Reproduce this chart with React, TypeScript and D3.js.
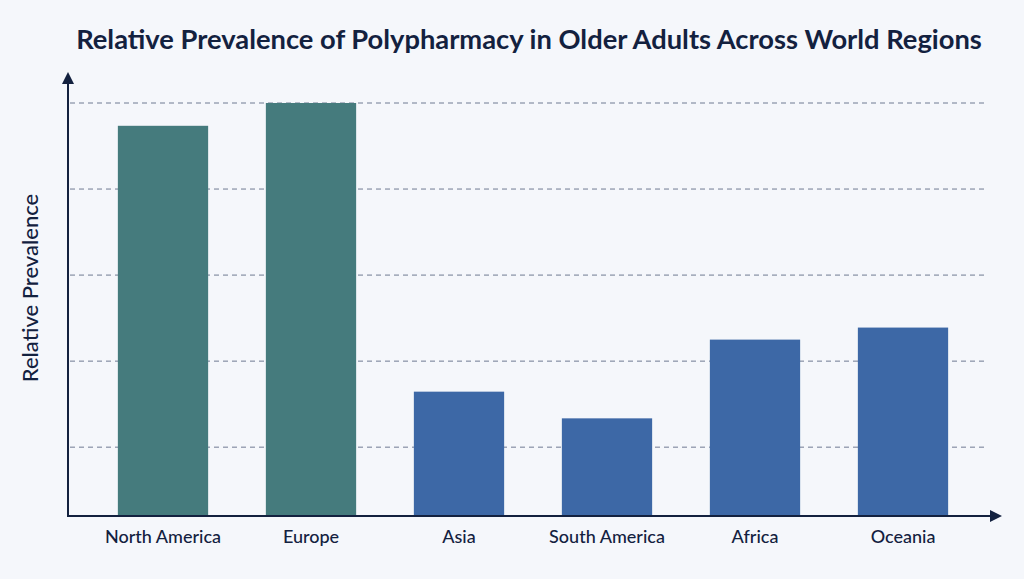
import { useMemo } from 'react';
import * as d3 from 'd3';

const REGIONS = ['North America', 'Europe', 'Asia', 'South America', 'Africa', 'Oceania'];
const PREVALENCE = [94.7, 100, 32.9, 26.7, 45, 47.8];
const HIGH_INCOME = ['North America', 'Europe'];
const GRID_TICKS = [20, 40, 60, 80, 100];

const WIDTH = 1024;
const HEIGHT = 579;
const TEAL = '#457b7d';
const BLUE = '#3d68a6';
const INK = '#13213f';
const BG = '#f5f7fb';

export default function App() {
  const x = useMemo(
    () => d3.scaleBand<string>().domain(REGIONS).range([89, 977]).paddingInner(0.39).paddingOuter(0.195),
    []
  );
  const y = useMemo(() => d3.scaleLinear().domain([4, 100]).range([516, 103]), []);

  const x0 = 68;
  const y0 = 516;

  return (
    <div style={{ position: 'absolute', left: 0, top: 0, width: WIDTH, height: HEIGHT, background: BG }}>
      <svg width={WIDTH} height={HEIGHT} style={{ display: 'block', fontFamily: 'Lato, "Open Sans", sans-serif' }}>
        <rect width={WIDTH} height={HEIGHT} fill={BG} />

        <text x={529} y={49} textAnchor="middle" fontSize={27.3} fontWeight={700} fill={INK}>
          Relative Prevalence of Polypharmacy in Older Adults Across World Regions
        </text>

        {/* gridlines */}
        {GRID_TICKS.map((t) => (
          <line
            key={t}
            x1={x0 + 2}
            x2={988}
            y1={y(t)}
            y2={y(t)}
            stroke="#6f7a92"
            strokeWidth={1}
            strokeDasharray="5,4"
          />
        ))}

        {/* bars */}
        {REGIONS.map((r, i) => (
          <rect
            key={r}
            x={x(r)}
            y={y(PREVALENCE[i])}
            width={x.bandwidth()}
            height={y0 - y(PREVALENCE[i])}
            fill={HIGH_INCOME.includes(r) ? TEAL : BLUE}
          />
        ))}

        {/* axes */}
        <line x1={x0} x2={x0} y1={y0 + 1} y2={82} stroke={INK} strokeWidth={2} />
        <path d={`M ${x0 - 6} 84 L ${x0} 72 L ${x0 + 6} 84 Z`} fill={INK} />
        <line x1={x0 - 1} x2={992} y1={y0} y2={y0} stroke={INK} strokeWidth={2} />
        <path d={`M 990 ${y0 - 6} L 1002 ${y0} L 990 ${y0 + 6} Z`} fill={INK} />

        {/* x labels */}
        {REGIONS.map((r) => (
          <text
            key={r}
            x={(x(r) ?? 0) + x.bandwidth() / 2}
            y={543}
            textAnchor="middle"
            fontSize={18}
            fontWeight={500}
            fill={INK}
          >
            {r}
          </text>
        ))}

        <text
          transform="translate(38,288) rotate(-90)"
          textAnchor="middle"
          fontSize={22}
          fontWeight={500}
          fill={INK}
        >
          Relative Prevalence
        </text>
      </svg>
    </div>
  );
}
